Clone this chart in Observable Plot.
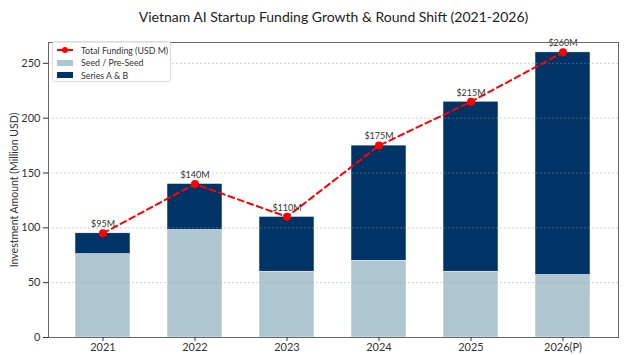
<!DOCTYPE html>
<html><head><meta charset="utf-8">
<script src="https://cdn.jsdelivr.net/npm/d3@7"></script>
<script src="https://cdn.jsdelivr.net/npm/@observablehq/plot@0.6"></script>
<style>
body{margin:0;background:#fff;font-family:Lato,"Open Sans",sans-serif;}
#wrap{position:relative;width:627px;height:355px;}
#title{height:30px;line-height:34px;text-align:center;font-size:14px;color:#222;padding-left:40px;box-sizing:border-box;}
#legend{position:absolute;left:52px;top:41px;width:119px;height:41px;border:1px solid #ddd;border-radius:3px;background:rgba(255,255,255,0.85);font-size:8.8px;color:#333;box-sizing:border-box;}
.row{position:absolute;left:4px;height:12px;display:flex;align-items:center;}
.row span{margin-left:8px;white-space:nowrap;}
.sw{width:16px;height:6px;}
</style></head><body>
<div id="wrap">
<div id="title">Vietnam AI Startup Funding Growth &amp; Round Shift (2021-2026)</div>
<div id="chart"></div>
<div id="legend"></div>
</div>
<script>
const years = ["2021","2022","2023","2024","2025","2026(P)"];
const seed = [76, 98, 60, 70, 60, 57];
const seriesAB = [19, 42, 50, 105, 155, 203];
const total = [95, 140, 110, 175, 215, 260];
const seriesNames = ["Seed / Pre-Seed", "Series A & B"];
const colors = ["#AEC6CF", "#003366"];
const lineName = "Total Funding (USD M)";
const yTicks = [0, 50, 100, 150, 200, 250];

const stacked = [];
years.forEach((y, i) => {
  stacked.push({year: y, series: seriesNames[0], value: seed[i]});
  stacked.push({year: y, series: seriesNames[1], value: seriesAB[i]});
});
const totals = years.map((y, i) => ({year: y, value: total[i], label: "$" + total[i] + "M"}));

const chart = Plot.plot({
  width: 627, height: 325,
  marginLeft: 48, marginRight: 9, marginTop: 12, marginBottom: 18,
  style: {fontFamily: "Lato, 'Open Sans', sans-serif", fontSize: "11px", color: "#333"},
  x: {domain: years, paddingInner: 0.4, paddingOuter: 0.28, label: null},
  y: {domain: [0, 269], label: null},
  color: {domain: seriesNames, range: colors},
  marks: [
    Plot.barY(stacked, {x: "year", y: "value", fill: "series", stroke: "white", strokeWidth: 0.5}),
    Plot.gridY(yTicks, {stroke: "#999", strokeOpacity: 0.45, strokeDasharray: "2,2"}),
    Plot.line(totals, {x: "year", y: "value", stroke: "red", strokeWidth: 2, strokeDasharray: "6,4"}),
    Plot.dot(totals, {x: "year", y: "value", fill: "red", r: 4}),
    Plot.text(totals, {x: "year", y: "value", text: "label", dy: -9, fontSize: 9, fill: "#333"}),
    Plot.frame({stroke: "#666"}),
    Plot.axisY({ticks: yTicks, tickSize: 5, tickPadding: 3, label: null, fontSize: 11}),
    Plot.axisY({ticks: [], tickSize: 0, label: "Investment Amount (Million USD)", labelAnchor: "center", labelArrow: "none", labelOffset: 38, fontSize: 10.5}),
    Plot.axisX({tickSize: 4, tickPadding: 2, label: null, fontSize: 11})
  ]
});
document.getElementById("chart").appendChild(chart);

const legend = document.getElementById("legend");
const entries = [
  {name: lineName, type: "line", color: "red"},
  {name: seriesNames[0], type: "patch", color: colors[0]},
  {name: seriesNames[1], type: "patch", color: colors[1]}
];
entries.forEach((e, i) => {
  const row = document.createElement("div");
  row.className = "row";
  row.style.top = (2 + i * 12.5) + "px";
  let sw;
  if (e.type === "line") {
    sw = `<svg width="16" height="8"><line x1="0" y1="4" x2="16" y2="4" stroke="${e.color}" stroke-width="2"/><circle cx="8" cy="4" r="3" fill="${e.color}"/></svg>`;
  } else {
    sw = `<div class="sw" style="background:${e.color}"></div>`;
  }
  row.innerHTML = sw + `<span>${e.name}</span>`;
  legend.appendChild(row);
});
</script>
</body></html>
